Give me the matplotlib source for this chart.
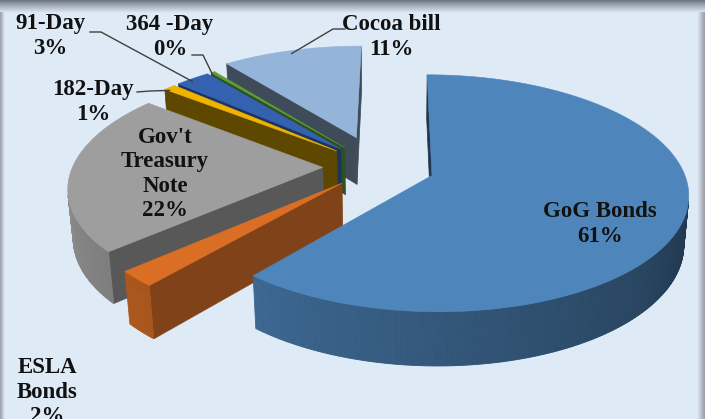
import numpy as np
import matplotlib
matplotlib.use("Agg")
import matplotlib.pyplot as plt
from matplotlib.patches import Polygon
from matplotlib.colors import to_rgb

# ---------------- data ----------------
categories = ["GoG Bonds", "ESLA Bonds", "Gov't Treasury Note", "182-Day", "91-Day", "364 -Day", "Cocoa bill"]
values = [61.1, 2.2, 22.3, 0.9, 2.6, 0.3, 10.6]
label_text = ["GoG Bonds", "ESLA\nBonds", "Gov't\nTreasury\nNote", "182-Day", "91-Day", "364 -Day", "Cocoa bill"]

# ---------------- style ----------------
top_colors = ["#4E86BC", "#D96E24", "#9E9E9E", "#F0B400", "#3462B0", "#5E9E38", "#95B4DA"]
face_colors = ["#1F3550", "#7F4219", "#585858", "#5E4800", "#1C3560", "#2F5020", "#3F4B59"]
explode = [0.229, 0.20, 0.22, 0.22, 0.22, 0.22, 0.28]
BG = "#DEEAF6"

W, Hpx = 705, 419
fig = plt.figure(figsize=(W / 100, Hpx / 100), dpi=100)
fig.patch.set_facecolor(BG)
ax = fig.add_axes([0, 0, 1, 1])

# frame gradients
bg = np.array(to_rgb(BG))
top = np.array([0.40, 0.43, 0.48])
grad = np.linspace(0, 1, 64) ** 0.8
img = np.array([top * (1 - g) + bg * g for g in grad])[:, None, :]
ax.imshow(img, extent=(0, W, 13, 0), aspect="auto", zorder=0)
left = np.array([0.60, 0.62, 0.66])
gl = np.linspace(0, 1, 16)
imgl = np.array([left * (1 - g) + bg * g for g in gl])[None, :, :]
ax.imshow(imgl, extent=(0, 5, Hpx, 13), aspect="auto", zorder=0)
imgr = imgl[:, ::-1, :]
ax.imshow(imgr, extent=(697, W, Hpx, 13), aspect="auto", zorder=0)
ax.set_xlim(0, W)
ax.set_ylim(Hpx, 0)
ax.axis("off")

# ---------------- 3D projection ----------------
S = 250.0
PXC, XC = 395.0, 0.069     # camera axis (pixel x) and its offset from pie centre (radius units)
CY = 166.5
PHI = np.radians(26.9)
D = 6.0
DEPTH = 0.219
cam = np.array([XC, D * np.sin(PHI), -D * np.cos(PHI)])


def proj(X, Z, Y):
    yp = Y * np.cos(PHI) + Z * np.sin(PHI)
    w = Z * np.cos(PHI) - Y * np.sin(PHI)
    s = D / (D + w)
    return PXC + S * (X - XC) * s, CY - S * yp * s


def visible(normal, point):
    return np.dot(normal, cam - point) > 0


def shade(c, f):
    return tuple(np.clip(np.array(to_rgb(c)) * f, 0, 1))


def wall_factor(th):
    th = th % 360
    if th < 90:
        return 0.38
    if th > 270:
        return 0.92
    return 0.38 + 0.54 * (th - 90) / 180


total = sum(values)
starts = np.cumsum([0] + values[:-1]) / total * 360
spans = np.array(values) / total * 360

slices = []
for i in range(len(values)):
    a0 = starts[i]
    a1 = a0 + spans[i]
    mid = np.radians((a0 + a1) / 2)
    ox, oz = explode[i] * np.sin(mid), explode[i] * np.cos(mid)
    th = np.radians(np.linspace(a0, a1, max(3, int(spans[i] * 2) + 2)))
    nearest = min(oz, (oz + np.cos(th)).min())
    slices.append((nearest, i, a0, a1, ox, oz, th))

slices.sort(key=lambda t: -t[0])
anchors = {}
z = 2
for nearest, i, a0, a1, ox, oz, th in slices:
    col = top_colors[i]
    # radial faces
    for ang, sign in ((a0, -1), (a1, 1)):
        r = np.radians(ang)
        nr = np.radians(ang + sign * 90)
        normal = np.array([np.sin(nr), 0, np.cos(nr)])
        pmid = np.array([ox + 0.5 * np.sin(r), -DEPTH / 2, oz + 0.5 * np.cos(r)])
        if visible(normal, pmid):
            pts = [proj(ox, oz, 0), proj(ox + np.sin(r), oz + np.cos(r), 0),
                   proj(ox + np.sin(r), oz + np.cos(r), -DEPTH), proj(ox, oz, -DEPTH)]
            ax.add_patch(Polygon(pts, closed=True, fc=face_colors[i], ec=face_colors[i],
                                 lw=0.5, zorder=z))
    # outer wall
    for k in range(len(th) - 1):
        tm = 0.5 * (th[k] + th[k + 1])
        normal = np.array([np.sin(tm), 0, np.cos(tm)])
        pm = np.array([ox + np.sin(tm), -DEPTH / 2, oz + np.cos(tm)])
        if visible(normal, pm):
            c = shade(col, wall_factor(np.degrees(tm)))
            pts = [proj(ox + np.sin(th[k]), oz + np.cos(th[k]), 0),
                   proj(ox + np.sin(th[k + 1]), oz + np.cos(th[k + 1]), 0),
                   proj(ox + np.sin(th[k + 1]), oz + np.cos(th[k + 1]), -DEPTH),
                   proj(ox + np.sin(th[k]), oz + np.cos(th[k]), -DEPTH)]
            ax.add_patch(Polygon(pts, closed=True, fc=c, ec=c, lw=0.6, zorder=z))
    # top face
    pts = [proj(ox, oz, 0)] + [proj(ox + np.sin(t), oz + np.cos(t), 0) for t in th]
    ax.add_patch(Polygon(pts, closed=True, fc=col, ec=col, lw=0.4, zorder=z + 0.5))
    tmid = 0.5 * (th[0] + th[-1])
    anchors[i] = proj(ox + np.sin(tmid), oz + np.cos(tmid), 0)
    z += 1

# ---------------- labels ----------------
font = dict(family="Liberation Serif", weight="bold", size=16.5, color="#111111",
            ha="center", va="center", linespacing=1.2, zorder=50)
pct = [f"{round(v)}%" for v in values]
text_pos = {0: (600, 224), 1: (47, 392), 2: (165, 174), 3: (93, 102),
            4: (50, 36), 5: (170, 37), 6: (391, 37)}
for i, (x, y) in text_pos.items():
    ax.text(x, y, f"{label_text[i]}\n{pct[i]}", **font)

# leader lines: (text end, elbow) -> slice anchor
leaders = {4: ((90, 32), (101, 32)), 5: ((192, 55), (203, 55)),
           3: ((137, 92), (150, 91)), 6: ((345, 29), (333, 29))}
for i, (p0, p1) in leaders.items():
    ax_, ay_ = anchors[i]
    ax.plot([p0[0], p1[0], ax_], [p0[1], p1[1], ay_ + 3], color="#404040", lw=1.0, zorder=40)

fig.savefig("out.png", dpi=100, facecolor=BG)
